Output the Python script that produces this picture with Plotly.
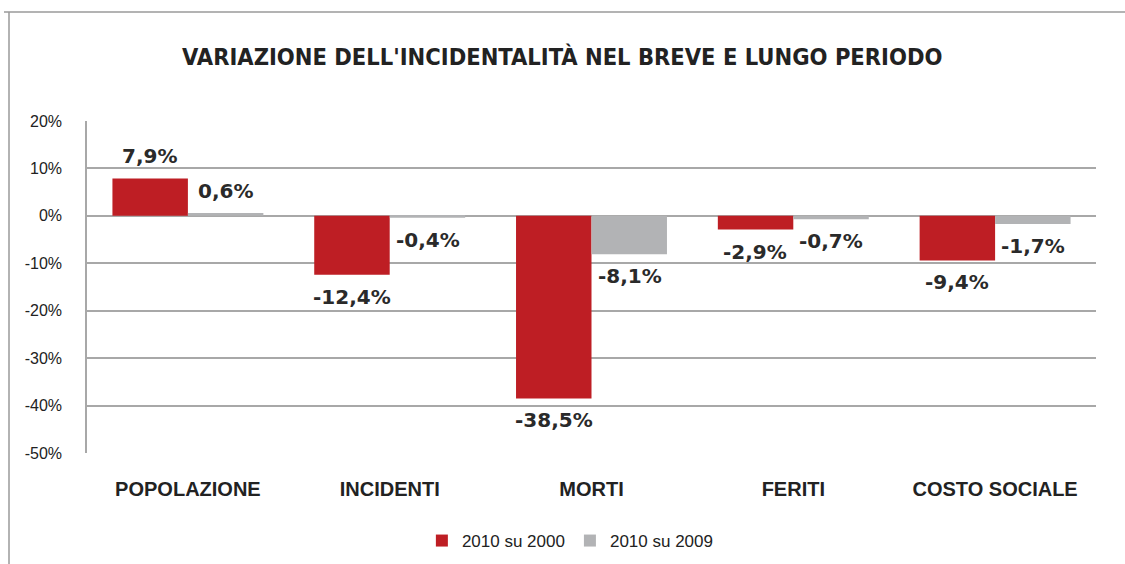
import plotly.graph_objects as go

categories = ["POPOLAZIONE", "INCIDENTI", "MORTI", "FERITI", "COSTO SOCIALE"]
series_names = ["2010 su 2000", "2010 su 2009"]
values_2000 = [7.9, -12.4, -38.5, -2.9, -9.4]
values_2009 = [0.6, -0.4, -8.1, -0.7, -1.7]
y_ticks = [20, 10, 0, -10, -20, -30, -40, -50]

RED = "#BE1E24"
GRAY = "#B2B3B5"
GRID = "#A8A8A8"

def fmt(v):
    return f"{v:.1f}".replace(".", ",") + "%"

fig = go.Figure()
fig.add_trace(go.Bar(x=categories, y=values_2000, name=series_names[0],
                     marker=dict(color=RED, line=dict(width=0))))
fig.add_trace(go.Bar(x=categories, y=values_2009, name=series_names[1],
                     marker=dict(color=GRAY, line=dict(width=0))))

annotations = []
for vals, shift in ((values_2000, -38), (values_2009, 38)):
    for c, v in zip(categories, vals):
        annotations.append(dict(
            x=c, y=v, xref="x", yref="y", text=fmt(v), showarrow=False,
            xshift=shift, yshift=22 if v >= 0 else -22, yanchor="middle",
            font=dict(family="DejaVu Sans", size=20, color="#2a2a2a", weight="bold")))

annotations.append(dict(
    x=0.5, y=1.0, xref="x domain", yref="paper",
    text="<b>VARIAZIONE DELL'INCIDENTALITÀ NEL BREVE E LUNGO PERIODO</b>",
    showarrow=False, xshift=-30, yshift=(453 - 57) - 332, yanchor="middle",
    font=dict(family="DejaVu Sans Condensed", size=23.5, color="#222222")))

shapes = [
    dict(type="line", xref="paper", yref="paper", x0=(4 - 87) / 1009, x1=(1125 - 87) / 1009,
         y0=(453 - 12) / 332, y1=(453 - 12) / 332, line=dict(color="#9a9a9a", width=1.5)),
    dict(type="line", xref="paper", yref="paper", x0=(9 - 87) / 1009, x1=(9 - 87) / 1009,
         y0=(453 - 12) / 332, y1=(453 - 570) / 332, line=dict(color="#9a9a9a", width=1.5)),
]

fig.update_layout(
    width=1125, height=564,
    margin=dict(l=87, r=29, t=121, b=111),
    paper_bgcolor="white", plot_bgcolor="white",
    barmode="group", bargap=0.252, bargroupgap=0,
    showlegend=True,
    legend=dict(orientation="h", xref="container", yref="container",
                x=0.507, xanchor="center", y=(564 - 541) / 564, yanchor="middle",
                font=dict(family="Liberation Sans", size=17, color="#222222"),
                itemwidth=30, traceorder="normal"),
    annotations=annotations,
    shapes=shapes,
    xaxis=dict(showgrid=False, showline=False, ticks="", ticklabelstandoff=22, automargin=False,
               tickfont=dict(family="Liberation Sans", size=20, color="#222222", weight="bold")),
    yaxis=dict(range=[-50, 20], tickvals=y_ticks, ticktext=[f"{t}%" for t in y_ticks],
               showgrid=True, gridcolor=GRID, gridwidth=1.5, automargin=False,
               zeroline=True, zerolinecolor=GRID, zerolinewidth=1.5,
               showline=True, linecolor=GRID, linewidth=1.5,
               ticks="", ticklabelstandoff=20,
               tickfont=dict(family="Liberation Sans", size=16, color="#222222")),
)

fig.write_html("out.html", config={"displayModeBar": False},
               post_script="document.body.style.margin='0';document.body.style.overflow='hidden';")
